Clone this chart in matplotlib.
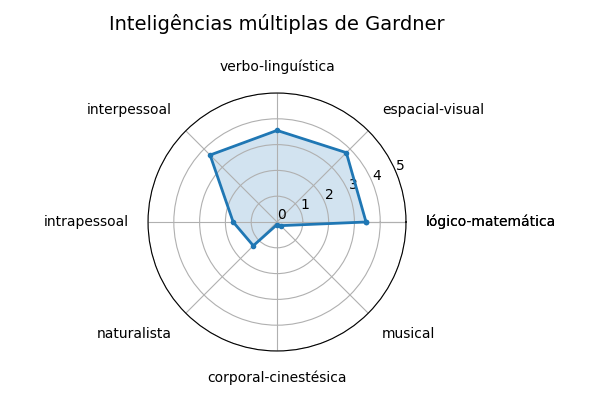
import numpy as np
import matplotlib
matplotlib.use("Agg")
import matplotlib.pyplot as plt

# Gardner's multiple intelligences, scores 0-5
categories = [
    "lógico-matemática",
    "espacial-visual",
    "verbo-linguística",
    "interpessoal",
    "intrapessoal",
    "naturalista",
    "corporal-cinestésica",
    "musical",
]
scores = [3.45, 3.8, 3.55, 3.67, 1.7, 1.3, 0.1, 0.2]
r_ticks = [0, 1, 2, 3, 4, 5]

n = len(categories)
angles = np.linspace(0, 2 * np.pi, n, endpoint=False).tolist()
# close the loop
values = scores + scores[:1]
angles += angles[:1]
labels = categories + categories[:1]

fig = plt.figure(figsize=(6, 4), dpi=100)
ax = fig.add_axes([0.2467, 0.1225, 0.43, 0.645], polar=True)

ax.plot(angles, values, color="#1f77b4", linewidth=2, marker="o", markersize=3)
ax.fill(angles, values, color="#1f77b4", alpha=0.2)

ax.set_thetagrids(np.degrees(angles), labels)
ax.set_ylim(0, 5)
ax.set_yticks(r_ticks)
ax.grid(True, color="#b0b0b0", linewidth=0.8)

# push labels away from the circle depending on where they sit
for label, angle in zip(ax.get_xticklabels(), angles):
    c, s = np.cos(angle), np.sin(angle)
    if abs(c) < 1e-6:
        label.set_horizontalalignment("center")
    elif c > 0:
        label.set_horizontalalignment("left")
    else:
        label.set_horizontalalignment("right")
    if abs(s) < 1e-6:
        label.set_verticalalignment("center")
    elif s > 0:
        label.set_verticalalignment("bottom")
    else:
        label.set_verticalalignment("top")

ax.set_title("Inteligências múltiplas de Gardner", fontsize=14, pad=45)

fig.savefig("out.png", dpi=100)
